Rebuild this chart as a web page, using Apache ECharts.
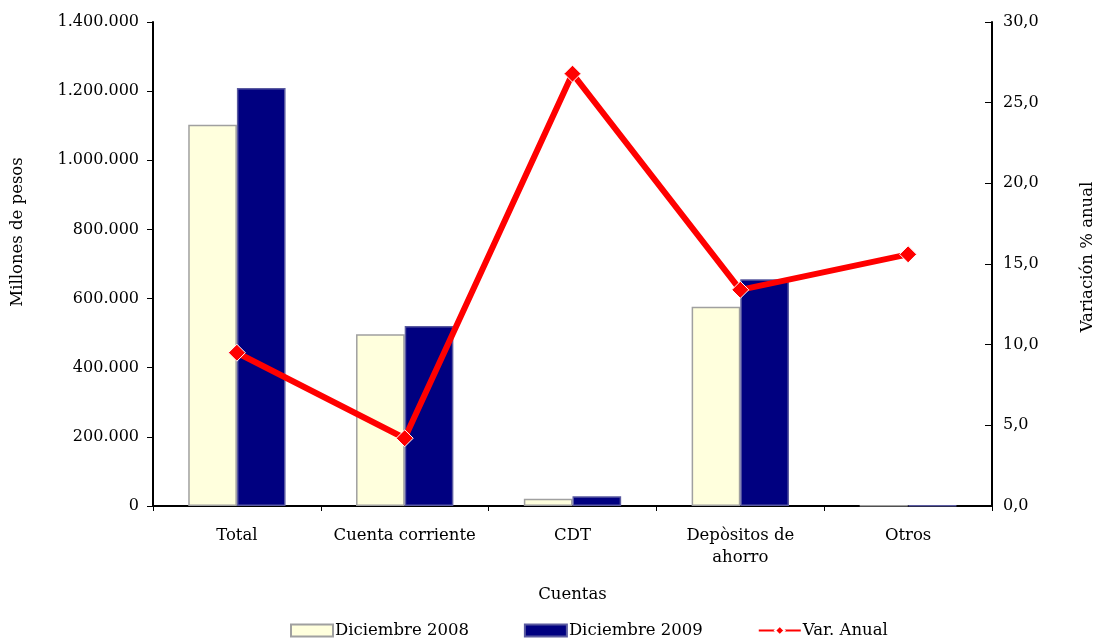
<!DOCTYPE html>
<html>
<head>
<meta charset="utf-8">
<script src="https://cdn.jsdelivr.net/npm/echarts@6/dist/echarts.min.js"></script>
<style>html,body{margin:0;padding:0;background:#fff;overflow:hidden}#c{width:1097px;height:638px}</style>
</head>
<body>
<div id="c"></div>
<script>
const categories = ['Total', 'Cuenta corriente', 'CDT', 'Depòsitos de\nahorro', 'Otros'];
const dic2008 = [1103000, 497000, 21000, 576000, 1500];
const dic2009 = [1209000, 521000, 28000, 656000, 1700];
const varAnual = [9.5, 4.2, 26.8, 13.4, 15.6];
const leftTicks = [0, 200000, 400000, 600000, 800000, 1000000, 1200000, 1400000];
const rightTicks = [0, 5, 10, 15, 20, 25, 30];

const FONT = 'DejaVu Serif';
const fmtThousands = v => v === 0 ? '0' : String(Math.round(v)).replace(/\B(?=(\d{3})+(?!\d))/g, '.');
const fmtPct = v => v.toFixed(1).replace('.', ',');

const chart = echarts.init(document.getElementById('c'), null, {renderer: 'canvas', width: 1097, height: 638});
chart.setOption({
  animation: false,
  backgroundColor: '#fff',
  textStyle: {fontFamily: FONT, color: '#000'},
  grid: {left: 153, right: 105, top: 22, bottom: 132, containLabel: false},
  legend: {
    bottom: -1, left: 290, padding: 0, itemGap: 55, itemWidth: 42, itemHeight: 12,
    textStyle: {fontFamily: FONT, fontSize: 16.5, color: '#000', padding: [0, 0, 0, -3]},
    data: [
      {name: 'Diciembre 2008', icon: 'rect'},
      {name: 'Diciembre 2009', icon: 'rect'},
      {name: 'Var. Anual'}
    ]
  },
  graphic: [
    {type: 'text', x: 18, y: 232, rotation: Math.PI / 2,
      style: {text: 'Millones de pesos', font: '16.5px "DejaVu Serif"', fill: '#000', align: 'center', verticalAlign: 'middle'}},
    {type: 'text', x: 1088, y: 257, rotation: Math.PI / 2,
      style: {text: 'Variación % anual', font: '16.5px "DejaVu Serif"', fill: '#000', align: 'center', verticalAlign: 'middle'}}
  ],
  xAxis: {
    type: 'category', data: categories,
    name: 'Cuentas', nameLocation: 'middle', nameGap: 80,
    nameTextStyle: {fontFamily: FONT, fontSize: 16.5, color: '#000'},
    axisLine: {lineStyle: {color: '#000', width: 2}},
    axisTick: {show: true, inside: false, length: 5, lineStyle: {color: '#000'}},
    axisLabel: {fontFamily: FONT, fontSize: 16.5, color: '#000', margin: 19, lineHeight: 22, interval: 0}
  },
  yAxis: [
    {
      type: 'value', min: 0, max: 1400000, interval: 200000,
      axisLine: {show: true, lineStyle: {color: '#000', width: 2}},
      axisTick: {show: true, length: 6, lineStyle: {color: '#000'}},
      splitLine: {show: false},
      axisLabel: {fontFamily: FONT, fontSize: 16, color: '#000', margin: 14,
        formatter: v => leftTicks.includes(v) ? fmtThousands(v) : ''}
    },
    {
      type: 'value', min: 0, max: 30, interval: 5, position: 'right',
      axisLine: {show: true, lineStyle: {color: '#000', width: 2}},
      axisTick: {show: true, inside: true, length: 7, lineStyle: {color: '#000'}},
      splitLine: {show: false},
      axisLabel: {fontFamily: FONT, fontSize: 16, color: '#000', margin: 11,
        formatter: v => rightTicks.includes(v) ? fmtPct(v) : ''}
    }
  ],
  series: [
    {
      name: 'Diciembre 2008', type: 'bar', data: dic2008, yAxisIndex: 0,
      barGap: '0%', barCategoryGap: '42%',
      itemStyle: {color: '#FFFFDD', borderColor: '#A0A0A0', borderWidth: 1.5}
    },
    {
      name: 'Diciembre 2009', type: 'bar', data: dic2009, yAxisIndex: 0,
      barGap: '0%', barCategoryGap: '42%',
      itemStyle: {color: '#000080', borderColor: '#5A5AA0', borderWidth: 1.5}
    },
    {
      name: 'Var. Anual', type: 'line', data: varAnual, yAxisIndex: 1,
      symbol: 'diamond', symbolSize: 17,
      lineStyle: {color: '#FF0000', width: 6},
      itemStyle: {color: '#FF0000', borderColor: '#fff', borderWidth: 1}
    }
  ]
});
</script>
</body>
</html>
